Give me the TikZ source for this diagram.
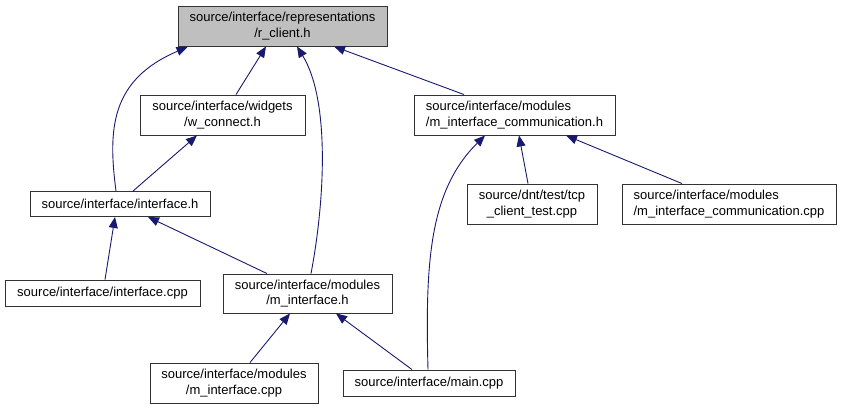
\documentclass[tikz,border=0pt]{standalone}
\usepackage{fontspec}
\setmainfont{Liberation Sans}
\usetikzlibrary{arrows.meta, calc, positioning}

\definecolor{edgeblue}{RGB}{25,25,112}
\definecolor{hdrgray}{RGB}{191,191,191}

\begin{document}
\begin{tikzpicture}[
  x=1pt, y=-1pt,
  box/.style={draw=black!80, line width=0.9pt, fill=white, inner sep=0pt,
              align=center, font=\fontsize{13}{15.5}\selectfont},
  lbox/.style={box, align=left},
  gbox/.style={box, fill=hdrgray},
  arr/.style={edgeblue, line width=0.9pt,
              -{Triangle[length=11pt, width=9pt]}},
]
  \useasboundingbox (0,0) rectangle (842,409);

  %% ── Root header (top) ──
  \node[gbox, minimum width=209pt, minimum height=40pt] (rclient) at (282.5, 26)
    {source/interface/representations\\/r\_client.h};

  %% Row 2
  \node[box, minimum width=165pt, minimum height=40pt] (wconnect) at (222.5, 115)
    {source/interface/widgets\\/w\_connect.h};
  \node[lbox, minimum width=201pt, minimum height=40pt] (micomh) at (514.5, 115)
    {source/interface/modules\\/m\_interface\_communication.h};

  %% Row 3
  \node[box, minimum width=180pt, minimum height=25pt] (interfaceh) at (120, 204)
    {source/interface/interface.h};
  \node[box, minimum width=130pt, minimum height=40pt] (tcptest) at (532, 204)
    {source/dnt/test/tcp\\\_client\_test.cpp};
  \node[lbox, minimum width=214pt, minimum height=40pt] (micomcpp) at (729, 204)
    {source/interface/modules\\/m\_interface\_communication.cpp};

  %% Row 4
  \node[box, minimum width=195pt, minimum height=26pt] (interfacecpp) at (102.5, 293)
    {source/interface/interface.cpp};
  \node[box, minimum width=169pt, minimum height=39pt] (minterfaceh) at (307.5, 293.5)
    {source/interface/modules\\/m\_interface.h};

  %% Row 5
  \node[box, minimum width=168pt, minimum height=40pt] (minterfacecpp) at (234, 383)
    {source/interface/modules\\/m\_interface.cpp};
  \node[box, minimum width=172pt, minimum height=26pt] (maincpp) at (429, 383)
    {source/interface/main.cpp};

  %% ══════════════════════════════════════════════════════
  %% ═══ INCLUDE EDGES (arrow at the included file) ═══

  %% into r_client.h
  \draw[arr] ($(interfaceh.north)+(-4,0)$)
    .. controls (108,130) and (110,80) .. ($(rclient.south west)+(10,0.5)$);
  \draw[arr] ($(wconnect.north)+(13.5,0)$) -- ($(rclient.south)+(-16.5,0)$);
  \draw[arr] ($(minterfaceh.north)+(3.5,0)$)
    .. controls (325,200) and (330,100) .. ($(rclient.south)+(14.5,0)$);
  \draw[arr] ($(micomh.north)+(-50.5,0)$) -- ($(rclient.south)+(51.5,0)$);

  %% into w_connect.h
  \draw[arr] ($(interfaceh.north)+(13,0)$) -- ($(wconnect.south)+(-25.5,0)$);

  %% into interface.h
  \draw[arr] ($(interfacecpp.north)+(2.5,0)$) -- ($(interfaceh.south)+(-5,0)$);
  \draw[arr] ($(minterfaceh.north)+(-40.5,0)$) -- ($(interfaceh.south)+(28,0)$);

  %% into m_interface_communication.h
  \draw[arr] ($(tcptest.north)+(-4,0)$) -- ($(micomh.south)+(4.5,0)$);
  \draw[arr] ($(micomcpp.north)+(-47,0)$) -- ($(micomh.south)+(51.5,0)$);
  \draw[arr] ($(maincpp.north)+(-1,0)$)
    .. controls (425,260) and (430,190) .. ($(micomh.south)+(-29.5,0)$);

  %% into m_interface.h
  \draw[arr] ($(minterfacecpp.north)+(16,0)$) -- ($(minterfaceh.south)+(-17.5,0)$);
  \draw[arr] ($(maincpp.north)+(-17,0)$) -- ($(minterfaceh.south)+(28.5,0)$);
\end{tikzpicture}
\end{document}
